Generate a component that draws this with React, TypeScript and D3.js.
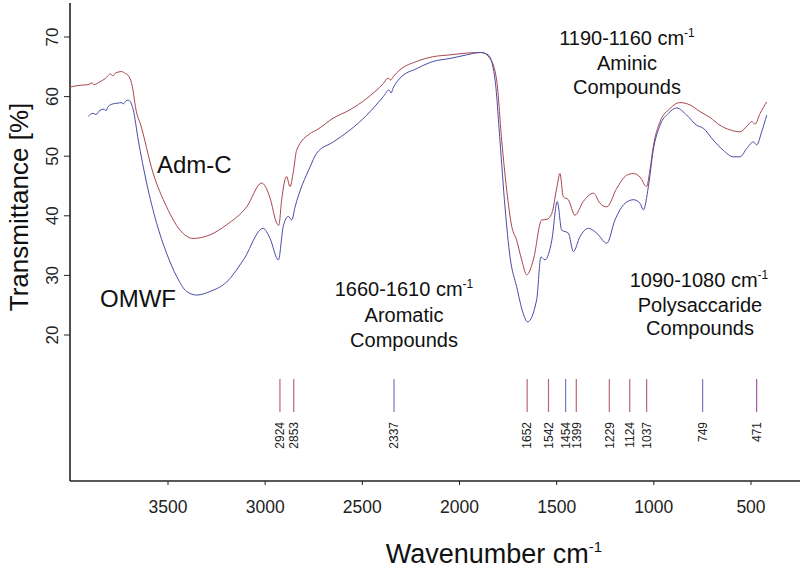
import React from "react";
import * as d3 from "d3";

// Adm-C (red) spectrum: [wavenumber cm-1, transmittance %]
const admC: [number, number][] = [
  [4004, 61.6], [3953, 61.9], [3912, 62.0], [3891, 62.3], [3881, 62.0], [3850, 62.5],
  [3824, 63.0], [3809, 63.5], [3798, 63.8], [3782, 63.5], [3768, 64.0], [3738, 64.2],
  [3721, 63.9], [3706, 63.6], [3687, 62.2], [3661, 57.2], [3644, 55.6], [3577, 47.2],
  [3507, 41.5], [3438, 37.6], [3371, 36.2], [3284, 36.8], [3198, 38.5], [3095, 41.5],
  [3018, 45.5], [2975, 43.0], [2941, 38.8], [2930, 38.4], [2915, 42.7], [2890, 46.6],
  [2872, 44.9], [2855, 47.4], [2838, 51.0], [2769, 53.8], [2735, 54.4], [2649, 56.4],
  [2563, 57.8], [2477, 59.7], [2392, 62.2], [2368, 63.1], [2354, 62.8], [2342, 63.3],
  [2306, 64.5], [2220, 65.9], [2135, 66.7], [2049, 67.0], [1963, 67.3], [1886, 67.4],
  [1843, 66.4], [1809, 62.8], [1783, 52.7], [1757, 44.3], [1731, 38.2], [1706, 35.9],
  [1680, 32.6], [1654, 30.1], [1620, 32.6], [1577, 39.3], [1551, 39.4], [1525, 40.4],
  [1500, 44.6], [1483, 47.1], [1466, 43.2], [1440, 42.7], [1406, 40.1], [1363, 42.4],
  [1311, 43.8], [1277, 42.1], [1242, 41.5], [1191, 44.6], [1140, 46.8], [1105, 47.1],
  [1071, 46.5], [1037, 44.9], [1020, 47.7], [1003, 51.6], [968, 55.8], [917, 58.0],
  [866, 59.0], [814, 58.6], [763, 57.5], [711, 56.5], [660, 55.2], [607, 54.4],
  [556, 54.1], [522, 55.0], [496, 55.8], [479, 55.4], [453, 57.2], [419, 59.1],
];

// OMWF (blue) spectrum
const omwf: [number, number][] = [
  [3910, 56.7], [3886, 57.2], [3871, 57.0], [3850, 57.7], [3829, 57.9], [3819, 57.6],
  [3809, 58.3], [3781, 58.8], [3757, 58.9], [3742, 59.0], [3729, 58.8], [3716, 59.3],
  [3704, 59.4], [3679, 57.8], [3653, 52.7], [3610, 45.5], [3558, 38.7], [3507, 33.7],
  [3455, 29.8], [3404, 27.3], [3352, 26.7], [3284, 27.3], [3198, 28.9], [3112, 32.6],
  [3010, 37.9], [2975, 36.2], [2932, 32.6], [2907, 38.2], [2881, 39.9], [2863, 39.3],
  [2846, 41.5], [2769, 48.2], [2735, 50.5], [2649, 52.4], [2563, 54.4], [2477, 56.9],
  [2392, 60.0], [2363, 61.1], [2352, 60.6], [2342, 61.4], [2306, 63.1], [2220, 64.7],
  [2135, 65.9], [2049, 66.4], [1963, 67.0], [1894, 67.4], [1852, 67.0], [1817, 62.8],
  [1792, 52.7], [1766, 41.5], [1740, 33.1], [1706, 28.1], [1672, 23.6], [1650, 22.2],
  [1603, 25.9], [1581, 33.1], [1560, 32.6], [1525, 35.9], [1497, 42.4], [1474, 37.6],
  [1440, 37.1], [1414, 34.0], [1380, 36.5], [1337, 37.9], [1294, 37.1], [1242, 35.4],
  [1200, 39.3], [1148, 42.1], [1105, 42.7], [1071, 42.1], [1054, 41.0], [1028, 44.9],
  [1003, 51.0], [968, 55.2], [925, 57.2], [882, 58.1], [831, 56.9], [780, 55.2],
  [746, 54.7], [694, 52.7], [643, 51.0], [591, 49.9], [556, 49.9], [522, 51.3],
  [488, 52.4], [471, 51.9], [445, 54.1], [419, 56.9],
];

const xTicks = [3500, 3000, 2500, 2000, 1500, 1000, 500];
const yTicks = [70, 60, 50, 40, 30, 20];

const markerWaves = [2924, 2853, 2337, 1652, 1542, 1454, 1399, 1229, 1124, 1037, 749, 471];
const markerKinds = ["r", "r", "b", "r", "r", "b", "r", "r", "r", "r", "b", "p"];

const RED = "#a8454d";
const BLUE = "#4a4aa8";
const markerColors: Record<string, string> = { r: "#b56a70", b: "#7878bb", p: "#a056a8" };

const FONT = "'Liberation Sans', Arial, sans-serif";

export default function App() {
  const x = d3.scaleLinear().domain([3500, 500]).range([168, 751]);
  const y = d3.scaleLinear().domain([70, 20]).range([37, 335]);

  const line = d3
    .line<[number, number]>()
    .x((d) => x(d[0]))
    .y((d) => y(d[1]))
    .curve(d3.curveMonotoneX);

  const axisLeft = 70;
  const axisBottom = 481;

  return (
    <div style={{ position: "fixed", left: 0, top: 0 }}>
      <svg width={800} height={573} style={{ display: "block", background: "#fff" }} fontFamily={FONT}>
        {/* axes */}
        <line x1={axisLeft} y1={3} x2={axisLeft} y2={axisBottom} stroke="#222" strokeWidth={1.6} />
        <line x1={axisLeft} y1={axisBottom} x2={800} y2={axisBottom} stroke="#222" strokeWidth={1.6} />
        {yTicks.map((t) => (
          <g key={t}>
            <line x1={axisLeft - 6} x2={axisLeft} y1={y(t)} y2={y(t)} stroke="#222" strokeWidth={1} />
            <text
              transform={`translate(58,${y(t)}) rotate(-90)`}
              textAnchor="middle"
              fontSize={17}
              fill="#222"
            >
              {t}
            </text>
          </g>
        ))}
        {xTicks.map((t) => (
          <g key={t}>
            <line x1={x(t)} x2={x(t)} y1={axisBottom} y2={axisBottom + 4} stroke="#222" strokeWidth={1} />
            <text x={x(t)} y={513} textAnchor="middle" fontSize={17.5} fill="#222">
              {t}
            </text>
          </g>
        ))}

        {/* axis titles */}
        <text transform="translate(28,207) rotate(-90)" textAnchor="middle" fontSize={26} fill="#111">
          Transmittance [%]
        </text>
        <text x={494} y={563} textAnchor="middle" fontSize={27} fill="#111">
          Wavenumber cm<tspan dy={-11} fontSize={15}>-1</tspan>
        </text>

        {/* spectra */}
        <path d={line(admC) || ""} fill="none" stroke={RED} strokeWidth={1} />
        <path d={line(omwf) || ""} fill="none" stroke={BLUE} strokeWidth={1} />

        {/* series labels */}
        <text x={157} y={172.7} fontSize={24} fill="#111">Adm-C</text>
        <text x={100} y={306.7} fontSize={24} fill="#111">OMWF</text>

        {/* annotations */}
        <g fontSize={20} fill="#111" textAnchor="middle">
          <text x={404} y={296}>
            1660-1610 cm<tspan dy={-8} fontSize={12}>-1</tspan>
          </text>
          <text x={404} y={321.7}>Aromatic</text>
          <text x={404} y={347}>Compounds</text>

          <text x={627} y={45}>
            1190-1160 cm<tspan dy={-8} fontSize={12}>-1</tspan>
          </text>
          <text x={627} y={70}>Aminic</text>
          <text x={627} y={94}>Compounds</text>

          <text x={699} y={286.7}>
            1090-1080 cm<tspan dy={-8} fontSize={12}>-1</tspan>
          </text>
          <text x={700} y={311.7}>Polysaccaride</text>
          <text x={700} y={335}>Compounds</text>
        </g>

        {/* peak markers */}
        {markerWaves.map((w, i) => (
          <g key={w}>
            <line
              x1={x(w)}
              x2={x(w)}
              y1={379}
              y2={412}
              stroke={markerColors[markerKinds[i]]}
              strokeWidth={1.2}
            />
            <text
              transform={`translate(${x(w) + 4.3},422) rotate(-90)`}
              textAnchor="end"
              fontSize={12}
              fill="#222"
            >
              {w}
            </text>
          </g>
        ))}
      </svg>
    </div>
  );
}
